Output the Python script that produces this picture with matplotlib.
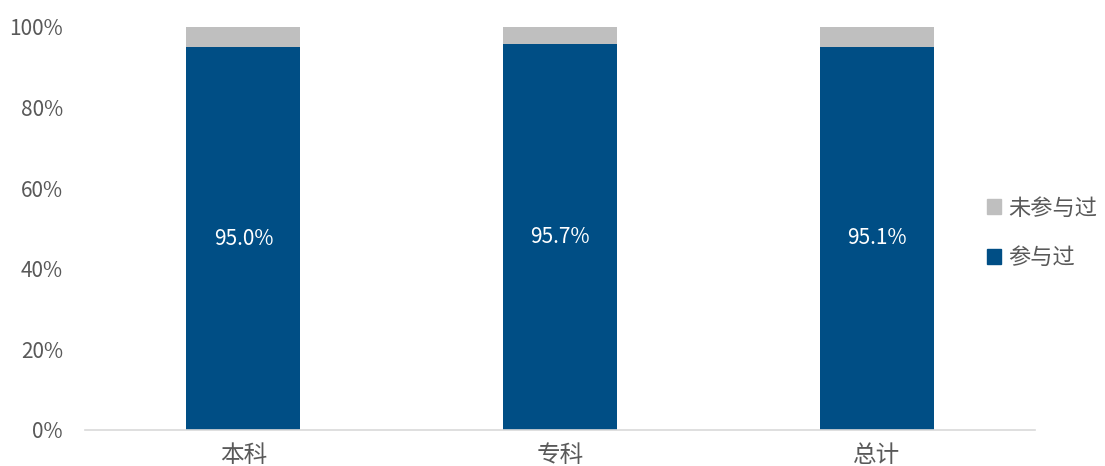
import numpy as np
import matplotlib.pyplot as plt
from matplotlib.ticker import PercentFormatter
from matplotlib.patches import Patch

plt.rcParams['font.family'] = ['Noto Sans CJK SC', 'DejaVu Sans']

categories = ['本科', '专科', '总计']
participated = [95.0, 95.7, 95.1]
not_participated = [5.0, 4.3, 4.9]
series_names = ['参与过', '未参与过']

blue = '#004E85'
gray = '#BFBFBF'
text_color = '#595959'

fig = plt.figure(figsize=(11.05, 4.66), dpi=100)
ax = fig.add_axes([0.077, 0.0773, 0.86, 0.865])

x = np.arange(len(categories))
width = 0.36
b1 = ax.bar(x, participated, width, color=blue)
b2 = ax.bar(x, not_participated, width, bottom=participated, color=gray)

for rect, v in zip(b1, participated):
    ax.text(rect.get_x() + rect.get_width() / 2, v / 2, '%.1f%%' % v,
            ha='center', va='center', color='white', fontsize=15)

ax.set_xlim(-0.5, 2.5)
ax.set_ylim(0, 100)
ax.set_yticks(np.arange(0, 101, 20))
ax.yaxis.set_major_formatter(PercentFormatter(decimals=0))
ax.set_xticks(x)
ax.set_xticklabels(categories)
ax.tick_params(axis='both', length=0, colors=text_color)
ax.tick_params(axis='y', pad=16, labelsize=15)
ax.tick_params(axis='x', pad=10, labelsize=17)
for s in ['left', 'right', 'top']:
    ax.spines[s].set_visible(False)
ax.spines['bottom'].set_color('#D9D9D9')
ax.spines['bottom'].set_linewidth(1.2)

handles = [Patch(color=gray), Patch(color=blue)]
leg = fig.legend(handles, [series_names[1], series_names[0]],
                 loc='center left', bbox_to_anchor=(0.875, 0.5),
                 frameon=False, fontsize=16, handlelength=0.65, handleheight=0.65,
                 handletextpad=0.3, labelspacing=1.2, labelcolor=text_color)

fig.savefig('out.png', dpi=100)
